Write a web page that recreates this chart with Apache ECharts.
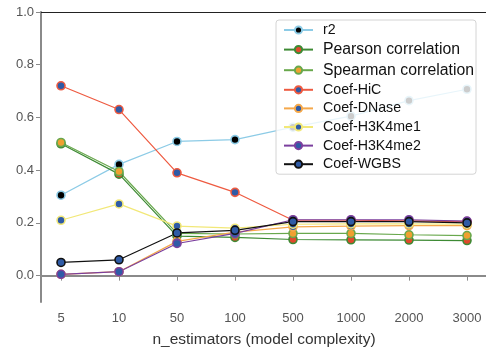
<!DOCTYPE html>
<html>
<head>
<meta charset="utf-8">
<script src="https://cdn.jsdelivr.net/npm/echarts@6/dist/echarts.min.js"></script>
<style>html,body{margin:0;padding:0;background:#fff;}#chart{width:486px;height:350px;}</style>
</head>
<body>
<div id="chart"></div>
<script>
// Model scores vs. number of estimators
const categories = ['5', '10', '50', '100', '500', '1000', '2000', '3000'];
const yTicks = [0, 0.2, 0.4, 0.6, 0.8, 1.0];

const r2       = [0.305, 0.422, 0.509, 0.516, 0.563, 0.605, 0.664, 0.707];
const pearson  = [0.500, 0.385, 0.150, 0.145, 0.137, 0.136, 0.135, 0.133];
const spearman = [0.505, 0.395, 0.160, 0.158, 0.160, 0.160, 0.155, 0.152];
const hic      = [0.720, 0.630, 0.390, 0.316, 0.210, 0.210, 0.208, 0.205];
const dnase    = [0.005, 0.015, 0.130, 0.165, 0.185, 0.188, 0.190, 0.190];
const h3k4me1  = [0.210, 0.272, 0.188, 0.180, 0.195, 0.196, 0.196, 0.195];
const h3k4me2  = [0.005, 0.015, 0.122, 0.160, 0.212, 0.212, 0.212, 0.207];
const wgbs     = [0.050, 0.060, 0.162, 0.172, 0.205, 0.205, 0.205, 0.200];

const BLUE = '#2f5ba6';
const seriesDefs = [
  { name: 'r2', data: r2, line: '#8ccbe6', fill: '#000000', big: false },
  { name: 'Pearson correlation', data: pearson, line: '#3d8a34', fill: '#e0492c', big: true },
  { name: 'Spearman correlation', data: spearman, line: '#68a84c', fill: '#f0a030', big: true },
  { name: 'Coef-HiC', data: hic, line: '#ee5a40', fill: BLUE, big: false },
  { name: 'Coef-DNase', data: dnase, line: '#f5a84a', fill: BLUE, big: false },
  { name: 'Coef-H3K4me1', data: h3k4me1, line: '#f2e878', fill: BLUE, big: false },
  { name: 'Coef-H3K4me2', data: h3k4me2, line: '#7b3f9e', fill: BLUE, big: false },
  { name: 'Coef-WGBS', data: wgbs, line: '#111111', fill: BLUE, big: false }
];

const FONT = 'Liberation Sans, Arial, sans-serif';
const chart = echarts.init(document.getElementById('chart'), null, { renderer: 'canvas' });

const option = {
  animation: false,
  backgroundColor: '#ffffff',
  grid: { left: 41, top: 12, width: 446, bottom: 48, containLabel: false, outerBoundsMode: 'none' },
  xAxis: [{
    type: 'value',
    min: -0.345, max: 7.345,
    axisLine: { show: true, lineStyle: { color: '#8a8a8a', width: 2 } },
    axisTick: { show: true, length: 5, lineStyle: { color: '#8a8a8a', width: 1 },
                customValues: categories.map((c, i) => i) },
    axisLabel: { color: '#555', fontSize: 13, fontFamily: FONT, margin: 10,
                 customValues: categories.map((c, i) => i),
                 formatter: v => categories[Math.round(v)] },
    splitLine: { show: false },
    name: 'n_estimators (model complexity)',
    nameLocation: 'middle', nameGap: 30,
    nameTextStyle: { color: '#333', fontSize: 15.5, fontFamily: FONT }
  }, {
    type: 'value', position: 'top',
    min: -0.345, max: 7.345,
    axisLine: { show: true, onZero: false, lineStyle: { color: '#222', width: 1.2 } },
    axisTick: { show: false }, axisLabel: { show: false }, splitLine: { show: false }
  }],
  yAxis: {
    type: 'value', min: -0.1, max: 1.0,
    axisLine: { show: true, onZero: false, lineStyle: { color: '#8a8a8a', width: 2 } },
    axisTick: { show: true, length: 5, lineStyle: { color: '#8a8a8a', width: 1 }, customValues: yTicks },
    axisLabel: { color: '#555', fontSize: 13, fontFamily: FONT, margin: 7,
                 customValues: yTicks, formatter: v => v.toFixed(1) },
    splitLine: { show: false }
  },
  legend: {
    left: 276, top: 20,
    orient: 'vertical',
    itemWidth: 29, itemHeight: 9, itemGap: 4.6,
    backgroundColor: 'rgba(255,255,255,0.8)',
    borderColor: '#d4d4d4', borderWidth: 1, borderRadius: 3,
    padding: [3, 2, 3, 7],
    textStyle: { fontFamily: FONT, fontSize: 14.2, color: '#111', padding: [0, 0, 0, 5] },
    data: seriesDefs.map(s => ({
      name: s.name,
      textStyle: { fontSize: s.big ? 15.8 : 14.2, padding: [0, 0, 0, 5] }
    }))
  },
  series: seriesDefs.map(s => ({
    name: s.name,
    type: 'line',
    data: s.data.map((v, i) => [i, v]),
    symbol: 'circle', symbolSize: 8,
    lineStyle: { color: s.line, width: 1.2 },
    itemStyle: { color: s.fill, borderColor: s.line, borderWidth: 1.6 },
    emphasis: { disabled: true }
  }))
};
chart.setOption(option);
</script>
</body>
</html>
